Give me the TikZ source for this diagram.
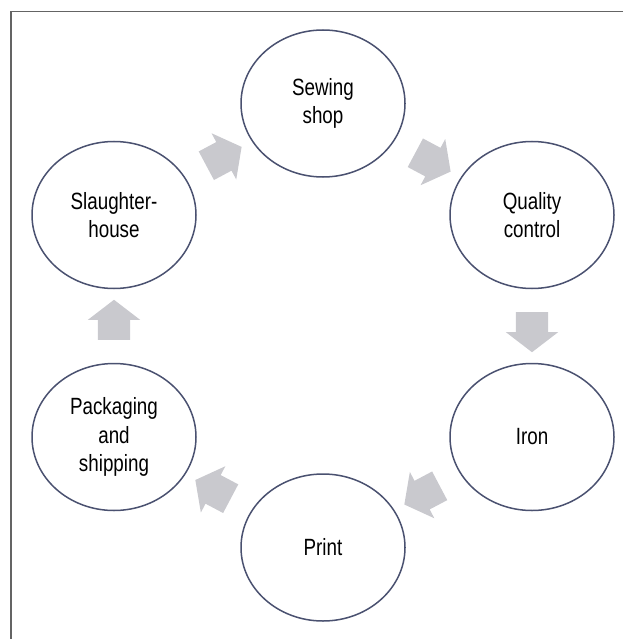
\documentclass[tikz,border=0pt]{standalone}
\usepackage{fontspec}
\setmainfont{Liberation Sans}[FakeStretch=0.8]
\usetikzlibrary{shapes.geometric,shapes.arrows}
\definecolor{ringline}{RGB}{74,81,112}
\definecolor{arrowgray}{RGB}{201,201,206}
\definecolor{framegray}{RGB}{100,100,100}

\begin{document}
\begin{tikzpicture}[x=1pt, y=-1pt,
    stage/.style={ellipse, draw=ringline, line width=1.5pt, fill=white,
        minimum width=164pt, minimum height=147pt, inner sep=0pt,
        align=center, font=\fontsize{23.5}{28.5}\selectfont},
    flow/.style={single arrow, fill=arrowgray, draw=none, sloped, allow upside down,
        minimum height=40pt, text height=16pt, text depth=16pt, inner sep=0pt,
        single arrow head extend=10pt, single arrow tip angle=105}]
    \useasboundingbox (0,0) rectangle (623,639);
    \draw[framegray, line width=1.3pt] (623,11.7) -- (11,11.7) -- (11,639);

    \node[stage] (sewing) at (323,103.5) {Sewing\\shop};
    \node[stage] (quality) at (532,215) {Quality\\control};
    \node[stage] (iron) at (532,437) {Iron};
    \node[stage] (print) at (323,547.5) {Print};
    \node[stage] (packing) at (114,437) {Packaging\\and\\shipping};
    \node[stage] (slaughter) at (114,215) {Slaughter-\\house};

    % Include block arrows between the stages
    \path (slaughter) -- (sewing) node[midway, flow] (f1) {};
    \path (sewing) -- (quality) node[midway, flow] (f2) {};
    \path (quality) -- (iron) node[midway, flow] (f3) {};
    \path (iron) -- (print) node[midway, flow] (f4) {};
    \path (print) -- (packing) node[midway, flow] (f5) {};
    \path (packing) -- (slaughter) node[midway, flow] (f6) {};
\end{tikzpicture}
\end{document}
